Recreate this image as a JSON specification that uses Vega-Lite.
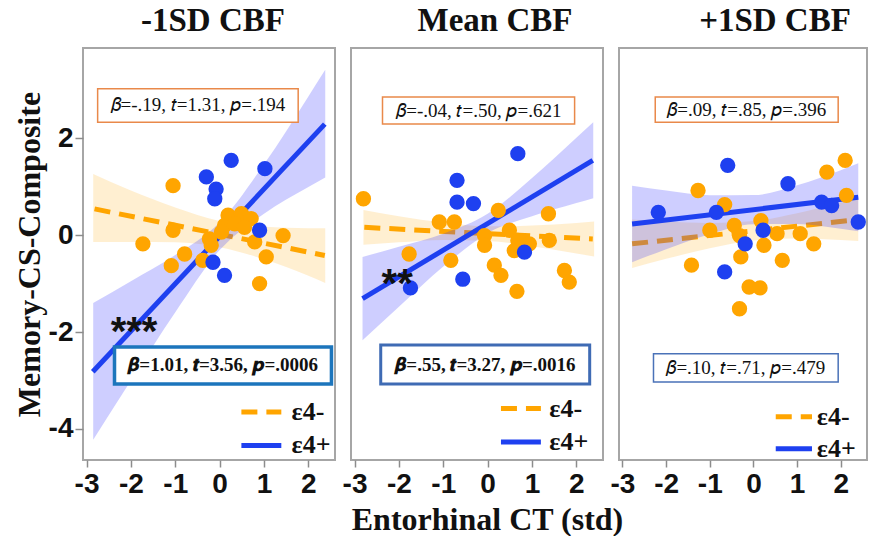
{
"$schema": "https://vega.github.io/schema/vega-lite/v6.json",
"padding": {"left": 12, "top": 4, "right": 0, "bottom": 0},
"bounds": "flush",
"spacing": 16,
"background": "white",
"datasets": {
"points": [
{"panel":1,"g":"neg","x":-1.05,"y":1.02},{"panel":1,"g":"neg","x":-1.05,"y":0.10},{"panel":1,"g":"neg","x":-1.73,"y":-0.18},{"panel":1,"g":"neg","x":-0.79,"y":-0.39},{"panel":1,"g":"neg","x":-1.09,"y":-0.63},{"panel":1,"g":"neg","x":-0.38,"y":-0.52},{"panel":1,"g":"neg","x":-0.23,"y":-0.08},{"panel":1,"g":"neg","x":-0.19,"y":-0.21},{"panel":1,"g":"neg","x":0.19,"y":0.41},{"panel":1,"g":"neg","x":0.49,"y":0.44},{"panel":1,"g":"neg","x":0.71,"y":0.34},{"panel":1,"g":"neg","x":0.11,"y":0.20},{"panel":1,"g":"neg","x":0.34,"y":0.23},{"panel":1,"g":"neg","x":0.56,"y":0.16},{"panel":1,"g":"neg","x":0.04,"y":0.06},{"panel":1,"g":"neg","x":0.79,"y":-0.14},{"panel":1,"g":"neg","x":1.43,"y":-0.01},{"panel":1,"g":"neg","x":1.05,"y":-0.45},{"panel":1,"g":"neg","x":0.90,"y":-1.00},
{"panel":1,"g":"pos","x":0.26,"y":1.54},{"panel":1,"g":"pos","x":1.02,"y":1.37},{"panel":1,"g":"pos","x":-0.30,"y":1.20},{"panel":1,"g":"pos","x":-0.08,"y":0.95},{"panel":1,"g":"pos","x":-0.11,"y":0.75},{"panel":1,"g":"pos","x":0.90,"y":0.10},{"panel":1,"g":"pos","x":-0.15,"y":-0.56},{"panel":1,"g":"pos","x":0.11,"y":-0.83},{"panel":1,"g":"pos","x":-1.05,"y":-2.89},
{"panel":2,"g":"neg","x":-2.80,"y":0.75},{"panel":2,"g":"neg","x":-1.77,"y":-0.39},{"panel":2,"g":"neg","x":-1.09,"y":0.27},{"panel":2,"g":"neg","x":-0.75,"y":0.27},{"panel":2,"g":"neg","x":-0.83,"y":-0.52},{"panel":2,"g":"neg","x":-0.07,"y":-0.01},{"panel":2,"g":"neg","x":-0.07,"y":-0.21},{"panel":2,"g":"neg","x":0.24,"y":0.51},{"panel":2,"g":"neg","x":0.49,"y":0.10},{"panel":2,"g":"neg","x":0.68,"y":-0.11},{"panel":2,"g":"neg","x":0.94,"y":-0.18},{"panel":2,"g":"neg","x":0.60,"y":-0.32},{"panel":2,"g":"neg","x":0.15,"y":-0.62},{"panel":2,"g":"neg","x":0.30,"y":-0.83},{"panel":2,"g":"neg","x":0.66,"y":-1.16},{"panel":2,"g":"neg","x":1.37,"y":0.44},{"panel":2,"g":"neg","x":1.39,"y":-0.11},{"panel":2,"g":"neg","x":1.73,"y":-0.73},{"panel":2,"g":"neg","x":1.84,"y":-0.97},
{"panel":2,"g":"pos","x":0.68,"y":1.68},{"panel":2,"g":"pos","x":-0.69,"y":1.13},{"panel":2,"g":"pos","x":-0.69,"y":0.68},{"panel":2,"g":"pos","x":-0.32,"y":0.65},{"panel":2,"g":"pos","x":0.83,"y":-0.35},{"panel":2,"g":"pos","x":-0.56,"y":-0.91},{"panel":2,"g":"pos","x":-1.74,"y":-1.09},
{"panel":3,"g":"neg","x":-1.27,"y":0.92},{"panel":3,"g":"neg","x":-0.66,"y":0.63},{"panel":3,"g":"neg","x":-1.00,"y":0.10},{"panel":3,"g":"neg","x":-0.44,"y":0.20},{"panel":3,"g":"neg","x":-0.32,"y":-0.01},{"panel":3,"g":"neg","x":0.17,"y":0.30},{"panel":3,"g":"neg","x":0.24,"y":-0.21},{"panel":3,"g":"neg","x":0.54,"y":0.03},{"panel":3,"g":"neg","x":1.07,"y":0.03},{"panel":3,"g":"neg","x":1.38,"y":-0.18},{"panel":3,"g":"neg","x":0.66,"y":-0.52},{"panel":3,"g":"neg","x":-0.29,"y":-0.45},{"panel":3,"g":"neg","x":-1.42,"y":-0.62},{"panel":3,"g":"neg","x":-0.10,"y":-1.07},{"panel":3,"g":"neg","x":0.15,"y":-1.09},{"panel":3,"g":"neg","x":-0.32,"y":-1.52},{"panel":3,"g":"neg","x":1.68,"y":1.30},{"panel":3,"g":"neg","x":2.10,"y":1.54},{"panel":3,"g":"neg","x":2.13,"y":0.82},
{"panel":3,"g":"pos","x":-2.18,"y":0.47},{"panel":3,"g":"pos","x":-0.59,"y":1.44},{"panel":3,"g":"pos","x":-0.85,"y":0.47},{"panel":3,"g":"pos","x":0.79,"y":1.06},{"panel":3,"g":"pos","x":1.56,"y":0.68},{"panel":3,"g":"pos","x":1.79,"y":0.61},{"panel":3,"g":"pos","x":2.40,"y":0.27},{"panel":3,"g":"pos","x":0.22,"y":0.10},{"panel":3,"g":"pos","x":-0.19,"y":-0.18},{"panel":3,"g":"pos","x":-0.66,"y":-0.76}
],
"lines": [
{"panel":1,"g":"neg","kind":"fit","x":-2.82,"y":0.54},{"panel":1,"g":"neg","kind":"fit","x":2.37,"y":-0.42},
{"panel":1,"g":"pos","kind":"fit","x":-2.86,"y":-2.82},{"panel":1,"g":"pos","kind":"fit","x":2.37,"y":2.29},
{"panel":2,"g":"neg","kind":"fit","x":-2.78,"y":0.16},{"panel":2,"g":"neg","kind":"fit","x":2.37,"y":-0.08},
{"panel":2,"g":"pos","kind":"fit","x":-2.82,"y":-1.31},{"panel":2,"g":"pos","kind":"fit","x":2.37,"y":1.54},
{"panel":3,"g":"neg","kind":"fit","x":-2.78,"y":-0.18},{"panel":3,"g":"neg","kind":"fit","x":2.40,"y":0.32},
{"panel":3,"g":"pos","kind":"fit","x":-2.78,"y":0.23},{"panel":3,"g":"pos","kind":"fit","x":2.40,"y":0.78},
{"panel":1,"g":"neg","kind":"legend","x":0.49,"y":-3.65},{"panel":1,"g":"neg","kind":"legend","x":1.39,"y":-3.65},
{"panel":1,"g":"pos","kind":"legend","x":0.49,"y":-4.34},{"panel":1,"g":"pos","kind":"legend","x":1.39,"y":-4.34},
{"panel":2,"g":"neg","kind":"legend","x":0.30,"y":-3.58},{"panel":2,"g":"neg","kind":"legend","x":1.20,"y":-3.58},
{"panel":2,"g":"pos","kind":"legend","x":0.30,"y":-4.27},{"panel":2,"g":"pos","kind":"legend","x":1.20,"y":-4.27},
{"panel":3,"g":"neg","kind":"legend","x":0.51,"y":-3.75},{"panel":3,"g":"neg","kind":"legend","x":1.34,"y":-3.75},
{"panel":3,"g":"pos","kind":"legend","x":0.51,"y":-4.41},{"panel":3,"g":"pos","kind":"legend","x":1.34,"y":-4.41}
],
"bands": [
{"panel":1,"g":"neg","x":-2.85,"y":-0.14,"y2":1.26},{"panel":1,"g":"neg","x":-2,"y":-0.14,"y2":0.92},{"panel":1,"g":"neg","x":-1,"y":-0.15,"y2":0.57},{"panel":1,"g":"neg","x":0,"y":-0.25,"y2":0.29},{"panel":1,"g":"neg","x":1,"y":-0.50,"y2":0.17},{"panel":1,"g":"neg","x":2,"y":-0.84,"y2":0.14},{"panel":1,"g":"neg","x":2.38,"y":-0.99,"y2":0.14},
{"panel":1,"g":"pos","x":-2.85,"y":-4.22,"y2":-1.40},{"panel":1,"g":"pos","x":-2,"y":-3.00,"y2":-0.95},{"panel":1,"g":"pos","x":-1,"y":-1.59,"y2":-0.41},{"panel":1,"g":"pos","x":0,"y":-0.31,"y2":0.26},{"panel":1,"g":"pos","x":1,"y":0.44,"y2":1.46},{"panel":1,"g":"pos","x":2,"y":0.99,"y2":2.86},{"panel":1,"g":"pos","x":2.38,"y":1.19,"y2":3.41},
{"panel":2,"g":"neg","x":-2.8,"y":-0.20,"y2":0.52},{"panel":2,"g":"neg","x":-2,"y":-0.15,"y2":0.39},{"panel":2,"g":"neg","x":-1,"y":-0.10,"y2":0.26},{"panel":2,"g":"neg","x":0,"y":-0.12,"y2":0.18},{"panel":2,"g":"neg","x":1,"y":-0.23,"y2":0.20},{"panel":2,"g":"neg","x":2,"y":-0.38,"y2":0.25},{"panel":2,"g":"neg","x":2.4,"y":-0.44,"y2":0.28},
{"panel":2,"g":"pos","x":-2.82,"y":-2.17,"y2":-0.45},{"panel":2,"g":"pos","x":-2,"y":-1.48,"y2":-0.24},{"panel":2,"g":"pos","x":-1,"y":-0.65,"y2":0.03},{"panel":2,"g":"pos","x":0,"y":0.04,"y2":0.44},{"panel":2,"g":"pos","x":1,"y":0.39,"y2":1.18},{"panel":2,"g":"pos","x":2,"y":0.66,"y2":2.01},{"panel":2,"g":"pos","x":2.38,"y":0.76,"y2":2.33},
{"panel":3,"g":"neg","x":-2.78,"y":-0.68,"y2":0.32},{"panel":3,"g":"neg","x":-2,"y":-0.49,"y2":0.28},{"panel":3,"g":"neg","x":-1,"y":-0.27,"y2":0.25},{"panel":3,"g":"neg","x":0,"y":-0.11,"y2":0.29},{"panel":3,"g":"neg","x":1,"y":-0.07,"y2":0.45},{"panel":3,"g":"neg","x":2,"y":-0.10,"y2":0.67},{"panel":3,"g":"neg","x":2.4,"y":-0.12,"y2":0.76},
{"panel":3,"g":"pos","x":-2.78,"y":-0.56,"y2":1.02},{"panel":3,"g":"pos","x":-2,"y":-0.29,"y2":0.92},{"panel":3,"g":"pos","x":-1,"y":0.02,"y2":0.82},{"panel":3,"g":"pos","x":0,"y":0.225,"y2":0.825},{"panel":3,"g":"pos","x":1,"y":0.23,"y2":1.03},{"panel":3,"g":"pos","x":2,"y":0.13,"y2":1.34},{"panel":3,"g":"pos","x":2.4,"y":0.08,"y2":1.48}
],
"boxes": [
{"panel":1,"pos":"top","x":-2.75,"x2":1.77,"y":2.33,"y2":3.02},
{"panel":1,"pos":"bottom","x":-2.37,"x2":2.52,"y":-3.07,"y2":-2.31},
{"panel":2,"pos":"top","x":-2.37,"x2":1.96,"y":2.29,"y2":2.85},
{"panel":2,"pos":"bottom","x":-2.41,"x2":2.30,"y":-3.07,"y2":-2.27},
{"panel":3,"pos":"top","x":-2.25,"x2":1.94,"y":2.33,"y2":2.85},
{"panel":3,"pos":"bottom","x":-2.29,"x2":1.94,"y":-3.03,"y2":-2.45}
],
"labels": [
{"panel":1,"type":"top","x":-0.49,"y":2.68,"label":"𝛽=-.19, 𝑡=1.31, 𝑝=.194"},
{"panel":1,"type":"bottom","x":0.08,"y":-2.69,"label":"𝜷=1.01, 𝒕=3.56, 𝒑=.0006"},
{"panel":2,"type":"top","x":-0.2,"y":2.57,"label":"𝛽=-.04, 𝑡=.50, 𝑝=.621"},
{"panel":2,"type":"bottom","x":-0.05,"y":-2.67,"label":"𝜷=.55, 𝒕=3.27, 𝒑=.0016"},
{"panel":3,"type":"top","x":-0.155,"y":2.59,"label":"𝛽=.09, 𝑡=.85, 𝑝=.396"},
{"panel":3,"type":"bottom","x":-0.175,"y":-2.74,"label":"𝛽=.10, 𝑡=.71, 𝑝=.479"},
{"panel":1,"type":"stars","x":-1.93,"y":-1.86,"label":"***"},
{"panel":2,"type":"stars","x":-2.04,"y":-0.87,"label":"**"},
{"panel":1,"type":"legend","x":1.62,"y":-3.65,"label":"ε4-"},
{"panel":1,"type":"legend","x":1.62,"y":-4.34,"label":"ε4+"},
{"panel":2,"type":"legend","x":1.39,"y":-3.58,"label":"ε4-"},
{"panel":2,"type":"legend","x":1.39,"y":-4.27,"label":"ε4+"},
{"panel":3,"type":"legend","x":1.45,"y":-3.75,"label":"ε4-"},
{"panel":3,"type":"legend","x":1.45,"y":-4.41,"label":"ε4+"}
]
},
"hconcat": [
{
"width": 252, "height": 412,
"title": {"text": "-1SD CBF", "dx": 4},
"encoding": {
"x": {"field": "x", "type": "quantitative", "scale": {"domain": [-3.08, 2.6], "nice": false, "zero": false}, "axis": {"values": [-3,-2,-1,0,1,2], "title": null, "labelExpr": "replace(datum.label, '\u2212', '-')"}},
"y": {"field": "y", "type": "quantitative", "scale": {"domain": [-4.64, 3.86], "nice": false, "zero": false}, "axis": {"values": [-4,-2,0,2], "title": "Memory-CS-Composite", "tickSize": 8, "labelPadding": 2, "titlePadding": 2, "labelExpr": "replace(datum.label, '\u2212', '-')"}}
},
"layer": [
{"data": {"name": "bands"}, "transform": [{"filter": "datum.panel==1 && datum.g=='neg'"}], "mark": {"type": "area", "color": "#FFA500", "opacity": 0.18, "interpolate": "monotone"}, "encoding": {"y2": {"field": "y2"}}},
{"data": {"name": "lines"}, "transform": [{"filter": "datum.panel==1 && datum.g=='neg'"}], "mark": {"type": "line", "color": "#FFA500", "strokeWidth": 5, "strokeDash": [16, 9]}, "encoding": {"detail": {"field": "kind"}}},
{"data": {"name": "bands"}, "transform": [{"filter": "datum.panel==1 && datum.g=='pos'"}], "mark": {"type": "area", "color": "#3C3CFF", "opacity": 0.25, "interpolate": "monotone"}, "encoding": {"y2": {"field": "y2"}}},
{"data": {"name": "lines"}, "transform": [{"filter": "datum.panel==1 && datum.g=='pos'"}], "mark": {"type": "line", "color": "#1E40F0", "strokeWidth": 5}, "encoding": {"detail": {"field": "kind"}}},
{"data": {"name": "points"}, "transform": [{"filter": "datum.panel==1"}], "mark": {"type": "circle", "size": 235, "opacity": 1}, "encoding": {"color": {"field": "g", "type": "nominal", "scale": {"domain": ["neg","pos"], "range": ["#FFA500","#1E40F0"]}, "legend": null}}},
{"data": {"name": "boxes"}, "transform": [{"filter": "datum.panel==1 && datum.pos=='top'"}], "mark": {"type": "rect", "fill": "white", "stroke": "#E9894A", "strokeWidth": 1.5}, "encoding": {"x2": {"field": "x2"}, "y2": {"field": "y2"}}},
{"data": {"name": "boxes"}, "transform": [{"filter": "datum.panel==1 && datum.pos=='bottom'"}], "mark": {"type": "rect", "fill": "white", "stroke": "#1C75BC", "strokeWidth": 3.5}, "encoding": {"x2": {"field": "x2"}, "y2": {"field": "y2"}}},
{"data": {"name": "labels"}, "transform": [{"filter": "datum.panel==1 && datum.type=='top'"}], "mark": {"type": "text", "font": "Liberation Serif", "fontSize": 19, "color": "#111"}, "encoding": {"text": {"field": "label"}}},
{"data": {"name": "labels"}, "transform": [{"filter": "datum.panel==1 && datum.type=='bottom'"}], "mark": {"type": "text", "font": "Liberation Serif", "fontSize": 19, "fontWeight": "bold", "color": "#111"}, "encoding": {"text": {"field": "label"}}},
{"data": {"name": "labels"}, "transform": [{"filter": "datum.panel==1 && datum.type=='stars'"}], "mark": {"type": "text", "font": "Liberation Sans", "fontSize": 40, "fontWeight": "bold", "color": "#111", "baseline": "middle", "dy": 8}, "encoding": {"text": {"field": "label"}}},
{"data": {"name": "labels"}, "transform": [{"filter": "datum.panel==1 && datum.type=='legend'"}], "mark": {"type": "text", "font": "Liberation Serif", "fontSize": 26, "fontWeight": "bold", "color": "#111", "align": "left"}, "encoding": {"text": {"field": "label"}}}
]
},
{
"width": 252, "height": 412,
"title": {"text": "Mean CBF", "dx": 18},
"encoding": {
"x": {"field": "x", "type": "quantitative", "scale": {"domain": [-3.08, 2.6], "nice": false, "zero": false}, "axis": {"values": [-3,-2,-1,0,1,2], "title": "Entorhinal CT (std)", "titleX": 136, "labelExpr": "replace(datum.label, '\u2212', '-')"}},
"y": {"field": "y", "type": "quantitative", "scale": {"domain": [-4.64, 3.86], "nice": false, "zero": false}, "axis": null}
},
"layer": [
{"data": {"name": "bands"}, "transform": [{"filter": "datum.panel==2 && datum.g=='neg'"}], "mark": {"type": "area", "color": "#FFA500", "opacity": 0.18, "interpolate": "monotone"}, "encoding": {"y2": {"field": "y2"}}},
{"data": {"name": "lines"}, "transform": [{"filter": "datum.panel==2 && datum.g=='neg'"}], "mark": {"type": "line", "color": "#FFA500", "strokeWidth": 5, "strokeDash": [16, 9]}, "encoding": {"detail": {"field": "kind"}}},
{"data": {"name": "bands"}, "transform": [{"filter": "datum.panel==2 && datum.g=='pos'"}], "mark": {"type": "area", "color": "#3C3CFF", "opacity": 0.25, "interpolate": "monotone"}, "encoding": {"y2": {"field": "y2"}}},
{"data": {"name": "lines"}, "transform": [{"filter": "datum.panel==2 && datum.g=='pos'"}], "mark": {"type": "line", "color": "#1E40F0", "strokeWidth": 5}, "encoding": {"detail": {"field": "kind"}}},
{"data": {"name": "points"}, "transform": [{"filter": "datum.panel==2"}], "mark": {"type": "circle", "size": 235, "opacity": 1}, "encoding": {"color": {"field": "g", "type": "nominal", "scale": {"domain": ["neg","pos"], "range": ["#FFA500","#1E40F0"]}, "legend": null}}},
{"data": {"name": "boxes"}, "transform": [{"filter": "datum.panel==2 && datum.pos=='top'"}], "mark": {"type": "rect", "fill": "white", "stroke": "#E9894A", "strokeWidth": 1.5}, "encoding": {"x2": {"field": "x2"}, "y2": {"field": "y2"}}},
{"data": {"name": "boxes"}, "transform": [{"filter": "datum.panel==2 && datum.pos=='bottom'"}], "mark": {"type": "rect", "fill": "white", "stroke": "#3F6BB4", "strokeWidth": 3}, "encoding": {"x2": {"field": "x2"}, "y2": {"field": "y2"}}},
{"data": {"name": "labels"}, "transform": [{"filter": "datum.panel==2 && datum.type=='top'"}], "mark": {"type": "text", "font": "Liberation Serif", "fontSize": 19, "color": "#111"}, "encoding": {"text": {"field": "label"}}},
{"data": {"name": "labels"}, "transform": [{"filter": "datum.panel==2 && datum.type=='bottom'"}], "mark": {"type": "text", "font": "Liberation Serif", "fontSize": 19, "fontWeight": "bold", "color": "#111"}, "encoding": {"text": {"field": "label"}}},
{"data": {"name": "labels"}, "transform": [{"filter": "datum.panel==2 && datum.type=='stars'"}], "mark": {"type": "text", "font": "Liberation Sans", "fontSize": 40, "fontWeight": "bold", "color": "#111", "baseline": "middle", "dy": 8}, "encoding": {"text": {"field": "label"}}},
{"data": {"name": "labels"}, "transform": [{"filter": "datum.panel==2 && datum.type=='legend'"}], "mark": {"type": "text", "font": "Liberation Serif", "fontSize": 26, "fontWeight": "bold", "color": "#111", "align": "left"}, "encoding": {"text": {"field": "label"}}}
]
},
{
"width": 248, "height": 412,
"title": {"text": "+1SD CBF", "dx": 32},
"encoding": {
"x": {"field": "x", "type": "quantitative", "scale": {"domain": [-3.08, 2.6], "nice": false, "zero": false}, "axis": {"values": [-3,-2,-1,0,1,2], "title": null, "labelExpr": "replace(datum.label, '\u2212', '-')"}},
"y": {"field": "y", "type": "quantitative", "scale": {"domain": [-4.64, 3.86], "nice": false, "zero": false}, "axis": null}
},
"layer": [
{"data": {"name": "bands"}, "transform": [{"filter": "datum.panel==3 && datum.g=='neg'"}], "mark": {"type": "area", "color": "#FFA500", "opacity": 0.18, "interpolate": "monotone"}, "encoding": {"y2": {"field": "y2"}}},
{"data": {"name": "lines"}, "transform": [{"filter": "datum.panel==3 && datum.g=='neg'"}], "mark": {"type": "line", "color": "#FFA500", "strokeWidth": 5, "strokeDash": [16, 9]}, "encoding": {"detail": {"field": "kind"}}},
{"data": {"name": "bands"}, "transform": [{"filter": "datum.panel==3 && datum.g=='pos'"}], "mark": {"type": "area", "color": "#3C3CFF", "opacity": 0.25, "interpolate": "monotone"}, "encoding": {"y2": {"field": "y2"}}},
{"data": {"name": "lines"}, "transform": [{"filter": "datum.panel==3 && datum.g=='pos'"}], "mark": {"type": "line", "color": "#1E40F0", "strokeWidth": 5}, "encoding": {"detail": {"field": "kind"}}},
{"data": {"name": "points"}, "transform": [{"filter": "datum.panel==3"}], "mark": {"type": "circle", "size": 235, "opacity": 1}, "encoding": {"color": {"field": "g", "type": "nominal", "scale": {"domain": ["neg","pos"], "range": ["#FFA500","#1E40F0"]}, "legend": null}}},
{"data": {"name": "boxes"}, "transform": [{"filter": "datum.panel==3 && datum.pos=='top'"}], "mark": {"type": "rect", "fill": "white", "stroke": "#E9894A", "strokeWidth": 1.5}, "encoding": {"x2": {"field": "x2"}, "y2": {"field": "y2"}}},
{"data": {"name": "boxes"}, "transform": [{"filter": "datum.panel==3 && datum.pos=='bottom'"}], "mark": {"type": "rect", "fill": "white", "stroke": "#4A72B8", "strokeWidth": 1.5}, "encoding": {"x2": {"field": "x2"}, "y2": {"field": "y2"}}},
{"data": {"name": "labels"}, "transform": [{"filter": "datum.panel==3 && datum.type=='top'"}], "mark": {"type": "text", "font": "Liberation Serif", "fontSize": 19, "color": "#111"}, "encoding": {"text": {"field": "label"}}},
{"data": {"name": "labels"}, "transform": [{"filter": "datum.panel==3 && datum.type=='bottom'"}], "mark": {"type": "text", "font": "Liberation Serif", "fontSize": 19, "color": "#111"}, "encoding": {"text": {"field": "label"}}},
{"data": {"name": "labels"}, "transform": [{"filter": "datum.panel==3 && datum.type=='legend'"}], "mark": {"type": "text", "font": "Liberation Serif", "fontSize": 26, "fontWeight": "bold", "color": "#111", "align": "left"}, "encoding": {"text": {"field": "label"}}}
]
}
],
"config": {
"view": {"stroke": "#A6A6A6", "strokeWidth": 2},
"font": "Liberation Serif",
"axis": {"grid": false, "domain": false, "ticks": true, "tickColor": "#8C8C8C", "tickWidth": 1.5, "tickSize": 7, "labelFont": "Liberation Sans", "labelFontWeight": "bold", "labelFontSize": 28, "labelColor": "#111", "labelPadding": 3, "titleFont": "Liberation Serif", "titleFontWeight": "bold", "titleFontSize": 32, "titleColor": "#111", "titlePadding": 6},
"title": {"font": "Liberation Serif", "fontSize": 33, "fontWeight": "bold", "color": "#111", "offset": 10, "anchor": "middle"}
}
}
